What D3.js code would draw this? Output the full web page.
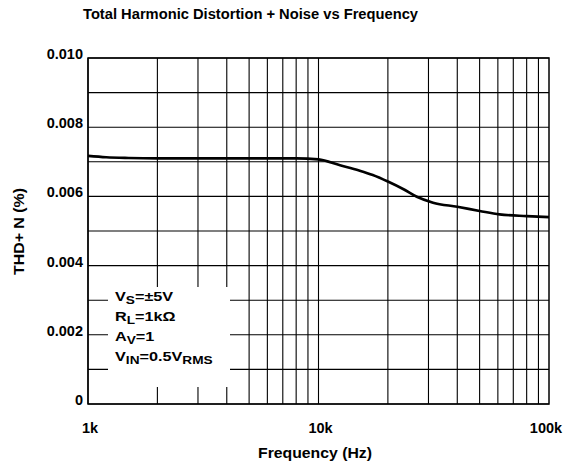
<!DOCTYPE html>
<html>
<head>
<meta charset="UTF-8">
<title>THD+N vs Frequency</title>
<style>
  body { margin: 0; background: #fff; }
  svg { display: block; font-family: "Liberation Sans", Arial, sans-serif; font-weight: bold; }
</style>
</head>
<body>
<svg></svg>
<script src="https://d3js.org/d3.v7.min.js"></script>
<script>

let width = 570, height = 466;
let margin = {left: 88, right: 21, top: 58, bottom: 62};

// curve
let freq = [1000, 1200, 1500, 2000, 5000, 8000, 10000, 12400, 15000, 17200, 20000, 23500, 26700, 31400, 40000, 50000, 61000, 80000, 100000];
let thd = [0.00717, 0.00713, 0.00711, 0.0071, 0.0071, 0.0071, 0.00707, 0.0069, 0.00675, 0.00662, 0.00643, 0.0062, 0.00599, 0.00582, 0.0057, 0.00558, 0.00548, 0.00543, 0.0054];

let yTicks = [0, 0.002, 0.004, 0.006, 0.008, 0.010];
let yTickLabels = ["0", "0.002", "0.004", "0.006", "0.008", "0.010"];
let xTicks = [1000, 10000, 100000];
let xTickLabels = ["1k", "10k", "100k"];

let svg = d3.select("svg").attr("width", width).attr("height", height);

let x = d3.scaleLog().domain([1000, 100000]).range([margin.left, width - margin.right]);
let y = d3.scaleLinear().domain([0, 0.010]).range([height - margin.bottom, margin.top]);

// grid
let xGrid = [];
[1000, 10000].forEach(d => { for (let i = 1; i < 10; i++) xGrid.push(d * i); });
let yGrid = d3.range(0, 11).map(i => i * 0.001);

let grid = svg.append("g").attr("stroke", "#000").attr("stroke-width", 1.1);
grid.selectAll(".vx").data(xGrid).enter().append("line")
    .attr("x1", d => x(d)).attr("x2", d => x(d))
    .attr("y1", y(0)).attr("y2", y(0.010));
grid.selectAll(".hy").data(yGrid).enter().append("line")
    .attr("x1", x(1000)).attr("x2", x(100000))
    .attr("y1", d => y(d)).attr("y2", d => y(d));

// legend box covers the grid
svg.append("rect")
    .attr("x", 108).attr("y", 287).attr("width", 122).attr("height", 100)
    .attr("fill", "#fff");

// frame
svg.append("rect")
    .attr("x", x(1000)).attr("y", y(0.010))
    .attr("width", x(100000) - x(1000)).attr("height", y(0) - y(0.010))
    .attr("fill", "none").attr("stroke", "#000").attr("stroke-width", 1.5);

// curve
let line = d3.line()
    .x((d, i) => x(freq[i]))
    .y(d => y(d))
    .curve(d3.curveMonotoneX);
svg.append("path")
    .datum(thd)
    .attr("d", line)
    .attr("fill", "none")
    .attr("stroke", "#000")
    .attr("stroke-width", 2.6);

// axes labels
svg.selectAll(".ylab").data(yTicks).enter().append("text")
    .attr("x", 83).attr("y", d => y(d) + 1)
    .attr("text-anchor", "end").attr("font-size", 14.5)
    .text((d, i) => yTickLabels[i]);

svg.selectAll(".xlab").data(xTicks).enter().append("text")
    .attr("x", (d, i) => x(d) + (i == 2 ? -3 : 2)).attr("y", 433)
    .attr("text-anchor", "middle").attr("font-size", 14.5)
    .text((d, i) => xTickLabels[i]);

svg.append("text")
    .attr("x", 258).attr("y", 458)
    .attr("font-size", 14.5)
    .attr("textLength", 114).attr("lengthAdjust", "spacingAndGlyphs")
    .text("Frequency (Hz)");

svg.append("text")
    .attr("transform", "translate(24,275) rotate(-90)")
    .attr("font-size", 14.5)
    .attr("textLength", 87).attr("lengthAdjust", "spacingAndGlyphs")
    .text("THD+ N (%)");

svg.append("text")
    .attr("x", 83).attr("y", 19)
    .attr("font-size", 14)
    .attr("textLength", 335).attr("lengthAdjust", "spacingAndGlyphs")
    .text("Total Harmonic Distortion + Noise vs Frequency");

// conditions
let cond = [
    [["V", 0], ["S", 1], ["=±5V", 0]],
    [["R", 0], ["L", 1], ["=1kΩ", 0]],
    [["A", 0], ["V", 1], ["=1", 0]],
    [["V", 0], ["IN", 1], ["=0.5V", 0], ["RMS", 1]]
];
let legend = svg.append("g")
    .attr("transform", "translate(115,0) scale(1.3,1)")
    .attr("font-size", 12.5);
cond.forEach((parts, i) => {
    let t = legend.append("text").attr("x", 0).attr("y", 301.5 + i * 19.8);
    let prev = 0;
    parts.forEach(p => {
        t.append("tspan")
            .attr("font-size", p[1] ? 10.5 : 12.5)
            .attr("dy", p[1] ? 3 - prev : -prev)
            .text(p[0]);
        prev = p[1] ? 3 : 0;
    });
});

</script>
</body>
</html>
